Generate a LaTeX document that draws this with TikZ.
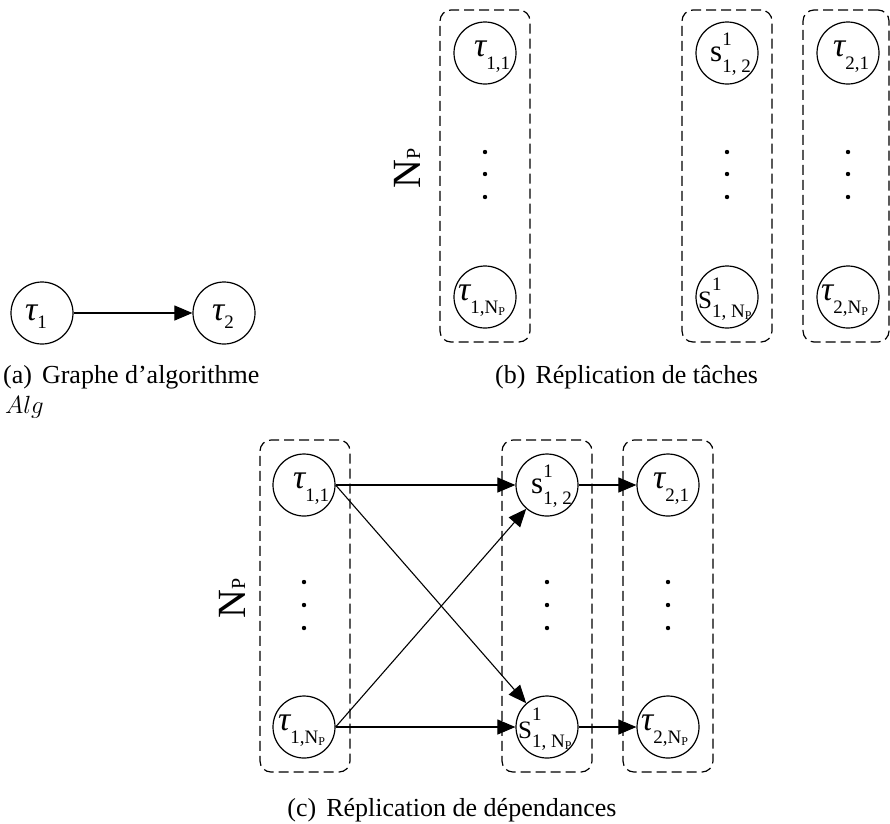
\documentclass[tikz,border=0pt]{standalone}
\usepackage{graphicx}
\usepackage{fontspec}
\setmainfont{Liberation Serif}
\usetikzlibrary{arrows.meta}
\newcommand{\bigf}{\fontsize{34}{35}\selectfont}
\newcommand{\subf}{\fontsize{19}{20}\selectfont}
\newcommand{\tinyf}{\fontsize{12}{13}\selectfont}
\newcommand{\capf}{\fontsize{26}{28}\selectfont}
% tau with subscript lowered by #1
\newcommand{\tauof}[2]{{\bigf\itshape τ}\raisebox{-#1}{\subf #2}}
% s with superscript 1 raised by #2 and subscript lowered by #3
\newcommand{\sof}[5]{{\fontsize{#1}{#1}\selectfont #4}\rlap{\raisebox{#2}{\subf 1}}\raisebox{-#3}{\subf #5}}
\newcommand{\NPsub}{N\raisebox{-2pt}{\tinyf P}}
\tikzset{
  circ/.style={draw, circle, line width=1.2pt, minimum size=62pt, inner sep=0pt},
  lbl/.style={anchor=base west, inner sep=0pt},
  dbox/.style={draw, dash pattern=on 10pt off 5pt, line width=1.2pt, rounded corners=11pt, minimum width=90pt, minimum height=332pt, inner sep=0pt},
  dotn/.style={circle, fill, minimum size=4.4pt, inner sep=0pt},
  arr/.style={line width=1.1pt, -{Triangle[length=18pt,width=15pt]}},
  captext/.style={anchor=base west, inner sep=0pt, font=\capf},
  nplbl/.style={rotate=90, inner sep=0pt, font=\fontsize{40}{42}\selectfont},
}
\begin{document}
\begin{tikzpicture}[x=1pt,y=-1pt]
\useasboundingbox (0,0) rectangle (890,823);
% ---------- (a)
\node[circ] (a1) at (42,313) {};
\node[circ] (a2) at (224,313) {};
\node[lbl] (a1l) at (25,320) {\tauof{8pt}{1}};
\node[lbl] (a2l) at (212,320) {\tauof{8pt}{2}};
\draw[arr] (a1) -- (a2);
\node[captext] (capa) at (3,383) {(a)\hspace{10pt}Graphe d’algorithme};
\node[captext] (capa2) at (5,413) {$Alg$};
% ---------- (b)
\node[dbox] (bB1) at (485,176) {};
\node[dbox] (bB2) at (727,176) {};
\node[dbox, minimum width=86pt] (bB3) at (846,176) {};
\node[circ] (bt11) at (485,53) {};
\node[circ] (bt1N) at (485,297) {};
\node[circ] (bs1) at (727,53) {};
\node[circ] (bsN) at (727,297) {};
\node[circ] (bt21) at (848,53) {};
\node[circ] (bt2N) at (848,297) {};
\node[lbl] (bt11l) at (474,56) {\tauof{13pt}{1,1}};
\node[lbl] (bt1Nl) at (458,300) {\tauof{13pt}{1,\NPsub}};
\node[lbl] (bs1l) at (710,61) {\sof{31}{16pt}{11pt}{s}{1, 2}};
\node[lbl] (bsNl) at (698,308) {\sof{25}{18pt}{9pt}{S}{1, \NPsub}};
\node[lbl] (bt21l) at (833,56) {\tauof{13pt}{2,1}};
\node[lbl] (bt2Nl) at (821,300) {\tauof{13pt}{2,\NPsub}};
\foreach \xx/\nm in {485/b1,727/b2,848/b3}{
  \node[dotn] (\nm d1) at (\xx,152) {};
  \node[dotn] (\nm d2) at (\xx,174) {};
  \node[dotn] (\nm d3) at (\xx,197) {};
}
\node[nplbl] (bNP) at (407,168) {N{\fontsize{20}{21}\selectfont P}};
\node[captext] (capb) at (495,383) {(b)\hspace{10pt}Réplication de tâches};
% ---------- (c)
\node[dbox] (cB1) at (305,606) {};
\node[dbox] (cB2) at (547,606) {};
\node[dbox] (cB3) at (668,606) {};
\node[circ] (ct11) at (304,485) {};
\node[circ] (ct1N) at (304,727) {};
\node[circ] (cs1) at (547,485) {};
\node[circ] (csN) at (547,727) {};
\node[circ] (ct21) at (668,485) {};
\node[circ] (ct2N) at (668,727) {};
\node[lbl] (ct11l) at (293,488) {\tauof{13pt}{1,1}};
\node[lbl] (ct1Nl) at (278,730) {\tauof{13pt}{1,\NPsub}};
\node[lbl] (cs1l) at (531,493) {\sof{31}{16pt}{11pt}{s}{1, 2}};
\node[lbl] (csNl) at (518,738) {\sof{25}{18pt}{9pt}{S}{1, \NPsub}};
\node[lbl] (ct21l) at (653,488) {\tauof{13pt}{2,1}};
\node[lbl] (ct2Nl) at (641,730) {\tauof{13pt}{2,\NPsub}};
\foreach \xx/\nm in {304/c1,547/c2,668/c3}{
  \node[dotn] (\nm d1) at (\xx,582) {};
  \node[dotn] (\nm d2) at (\xx,605) {};
  \node[dotn] (\nm d3) at (\xx,628) {};
}
\node[nplbl] (cNP) at (232,598) {N{\fontsize{20}{21}\selectfont P}};
\draw[arr] (ct11) -- (cs1);
\draw[arr] (ct1N) -- (csN);
\draw[arr] (ct11.east) -- (csN);
\draw[arr] (ct1N.east) -- (cs1);
\draw[arr] (cs1) -- (ct21);
\draw[arr] (csN) -- (ct2N);
\node[captext, anchor=base] (capc) at (452,816) {(c)\hspace{10pt}Réplication de dépendances};
\end{tikzpicture}
\end{document}
